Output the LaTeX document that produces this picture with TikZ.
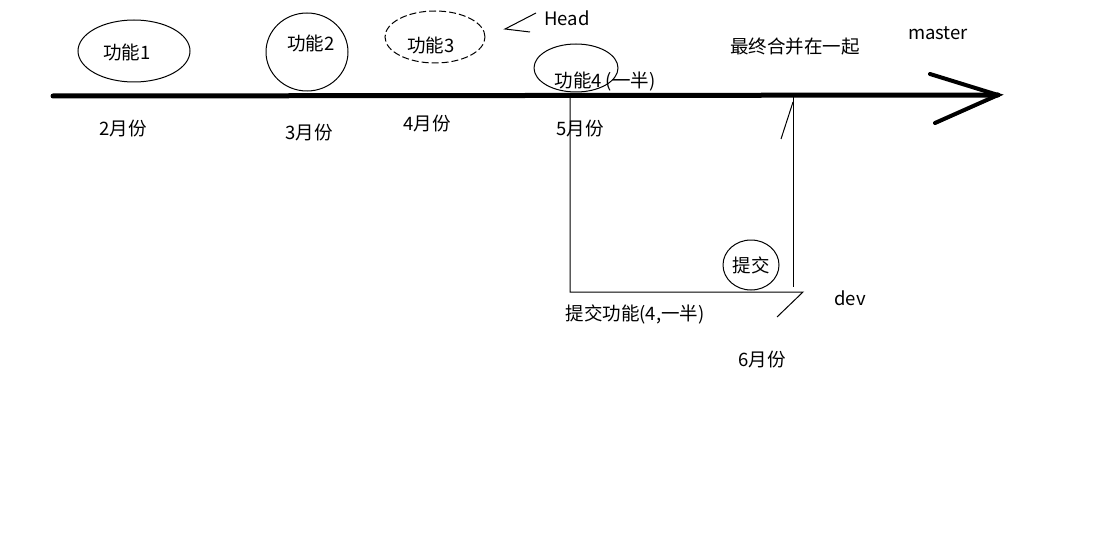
\documentclass[tikz,border=0pt]{standalone}
\usepackage{fontspec}
\setmainfont{Noto Sans CJK SC}
\begin{document}
\begin{tikzpicture}[x=1pt,y=-1pt,timeline/.style={line width=5pt, line cap=round},head/.style={line width=4pt, line cap=round},thin/.style={line width=1pt},bubble/.style={thin},txt/.style={font=\fontsize{18.5}{21}\selectfont, inner sep=0pt}]
\useasboundingbox (0,0) rectangle (1118,559);
\coordinate (start) at (53,96); \coordinate (tip) at (998,95);
\coordinate (headup) at (930,74); \coordinate (headlow) at (935,123);
\coordinate (branch) at (570,96); \coordinate (devend) at (570,292); \coordinate (devtip) at (803,292); \coordinate (devtail) at (777,317);
\coordinate (merge) at (793,96); \coordinate (mergelow) at (793,287); \coordinate (mergetick) at (781,139);
\coordinate (hA) at (536,13); \coordinate (hB) at (505,29); \coordinate (hC) at (530,32);
% master line
\draw[timeline] (start) -- (tip);
\draw[head] (headup) -- (tip) -- (headlow);
% ellipses
\draw[bubble] (134,51) ellipse [x radius=56pt, y radius=31pt];
\draw[bubble] (307,52) ellipse [x radius=41pt, y radius=39pt];
\draw[bubble, dash pattern=on 7pt off 3pt] (435,37) ellipse [x radius=50pt, y radius=26pt];
\draw[bubble] (576,68) ellipse [x radius=42pt, y radius=24pt];
\draw[bubble] (751,265) ellipse [x radius=28pt, y radius=25pt];
% dev branch
\draw[thin] (branch) -- (devend) -- (devtip) -- (devtail);
\draw[thin] (merge) -- (mergelow);
\draw[thin] (merge) ++(0,6) -- (mergetick);
\draw[thin] (hA) -- (hB) -- (hC);
% texts
\node[txt] (f1) at (127,52) {功能1};
\node[txt] (f2) at (311,43) {功能2};
\node[txt] (f3) at (431,45) {功能3};
\node[txt] (f4) at (605,82) {功能4 (一半)};
\node[txt] (headlbl) at (567,18) {Head};
\node[txt] (mergelbl) at (795,47) {最终合并在一起};
\node[txt] (masterlbl) at (938,33) {master};
\node[txt] (m2) at (123,129) {2月份};
\node[txt] (m3) at (309,133) {3月份};
\node[txt] (m4) at (427,124) {4月份};
\node[txt] (m5) at (580,129) {5月份};
\node[txt] (m6) at (762,360) {6月份};
\node[txt] (commit) at (751,265) {提交};
\node[txt] (devlbl) at (850,298) {dev};
\node[txt] (commitlbl) at (635,314) {提交功能(4,一半)};
\end{tikzpicture}
\end{document}
